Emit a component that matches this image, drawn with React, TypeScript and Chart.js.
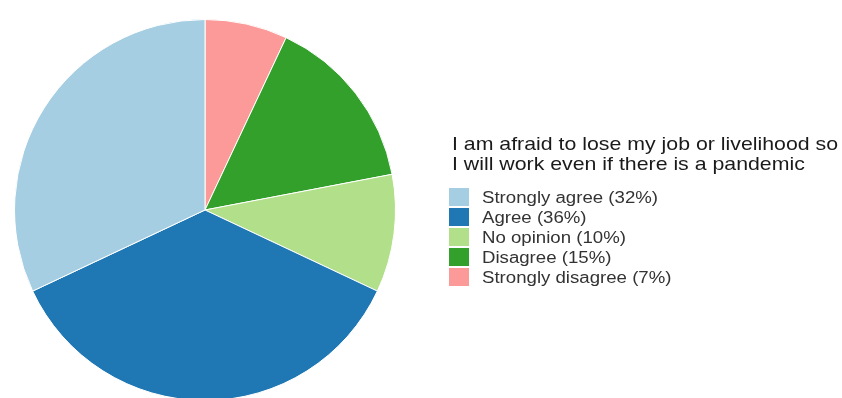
import React, { useEffect, useRef } from "react";
import { Chart, registerables } from "chart.js";

Chart.register(...registerables);

const categories = ["Strongly agree", "Agree", "No opinion", "Disagree", "Strongly disagree"];
const shares = [32, 36, 10, 15, 7];
const colors = ["#a6cee3", "#1f78b4", "#b2df8a", "#33a02c", "#fb9a99"];
const titleLines = [
  "I am afraid to lose my job or livelihood so",
  "I will work even if there is a pandemic",
];

const FONT = "'Liberation Sans', Arial, Helvetica, sans-serif";

function stretchedText(ctx: CanvasRenderingContext2D, text: string, x: number, y: number, targetWidth: number | null, sx: number) {
  ctx.save();
  let s = sx;
  if (targetWidth) s = targetWidth / ctx.measureText(text).width;
  ctx.translate(x, y);
  ctx.scale(s, 1);
  ctx.fillText(text, 0, 0);
  ctx.restore();
}

const sideLegend = {
  id: "sideLegend",
  afterDraw(chart: any) {
    const ctx = chart.ctx as CanvasRenderingContext2D;
    ctx.save();
    ctx.textAlign = "left";
    ctx.textBaseline = "alphabetic";
    ctx.fillStyle = "#1a1a1a";
    ctx.font = `19px ${FONT}`;
    const titleScale = 386 / ctx.measureText(titleLines[0]).width;
    titleLines.forEach((line, i) => {
      stretchedText(ctx, line, 452, 150 + i * 19.5, null, titleScale);
    });
    const labels = chart.data.labels as string[];
    const ds = chart.data.datasets[0];
    const n = labels.length;
    ctx.font = `16px ${FONT}`;
    const itemScale = 176 / ctx.measureText(`${labels[n - 1]} (${ds.data[n - 1]}%)`).width;
    for (let k = 0; k < n; k++) {
      const idx = n - 1 - k;
      const top = 188 + k * 20;
      ctx.fillStyle = ds.backgroundColor[idx];
      ctx.fillRect(449, top, 20, 18);
      ctx.fillStyle = "#333333";
      stretchedText(ctx, `${labels[idx]} (${ds.data[idx]}%)`, 482, top + 15, null, itemScale);
    }
    ctx.restore();
  },
};

export default function App() {
  const ref = useRef<HTMLCanvasElement>(null);
  useEffect(() => {
    if (!ref.current) return;
    const chart = new Chart(ref.current, {
      type: "pie",
      data: {
        labels: [...categories].reverse(),
        datasets: [
          {
            data: [...shares].reverse(),
            backgroundColor: [...colors].reverse(),
            borderColor: "#ffffff",
            borderWidth: 1,
          },
        ],
      },
      options: {
        responsive: false,
        animation: false,
        layout: { padding: { left: 14, top: 19, right: 446, bottom: 19 } },
        plugins: {
          legend: { display: false },
          tooltip: { enabled: false },
        },
      },
      plugins: [sideLegend],
    });
    return () => chart.destroy();
  }, []);
  return (
    <div
      style={{
        position: "fixed",
        left: 0,
        top: 0,
        width: 842,
        height: 398,
        overflow: "hidden",
        background: "#ffffff",
      }}
    >
      <canvas ref={ref} width={842} height={420} style={{ display: "block" }} />
    </div>
  );
}
